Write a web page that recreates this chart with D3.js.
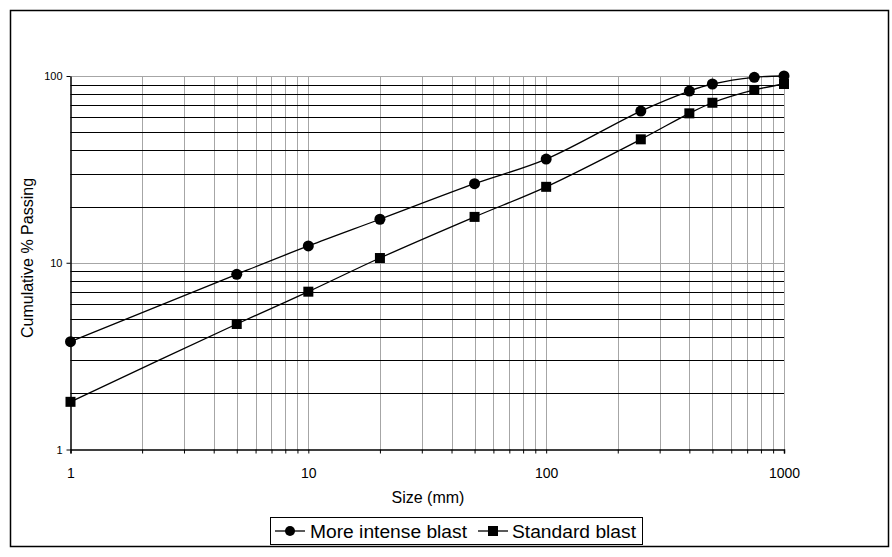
<!DOCTYPE html>
<html>
<head>
<meta charset="utf-8">
<script src="https://cdn.jsdelivr.net/npm/d3@7"></script>
<style>
  body { margin: 0; background: #fff; }
  svg { font-family: "Liberation Sans", Arial, sans-serif; }
</style>
</head>
<body>
<div id="chart"></div>
<script>
// sieve sizes (mm) and cumulative % passing for each blast
var sizes = [1, 5, 10, 20, 50, 100, 250, 400, 500, 750, 1000];
var intense = [3.78, 8.67, 12.3, 17.1, 26.5, 35.9, 64.9, 83.1, 90.6, 98.4, 100];
var standard = [1.8, 4.7, 7.0, 10.6, 17.6, 25.5, 45.8, 63.1, 71.9, 84.2, 90.6];
var seriesNames = ["More intense blast", "Standard blast"];
var xTicks = [1, 10, 100, 1000];
var yTicks = [1, 10, 100];

var width = 892, height = 557;
var margin = { top: 76, right: 108, bottom: 107.5, left: 70.5 };
var font = "'Liberation Sans', Arial, sans-serif";

var svg = d3.select("#chart").append("svg")
  .attr("width", width)
  .attr("height", height);

// outer frame
svg.append("rect")
  .attr("x", 10.5).attr("y", 10.5)
  .attr("width", 878).attr("height", 536)
  .attr("fill", "none").attr("stroke", "#000").attr("stroke-width", 1.5);

var xScale = d3.scaleLog().domain([1, 1000])
  .range([margin.left, width - margin.right]);
var yScale = d3.scaleLog().domain([1, 100])
  .range([height - margin.bottom, margin.top]);

// values 2..10 in every decade, no duplicates
function minors(lo, hi) {
  var out = [];
  for (var d = lo; d < hi; d *= 10)
    for (var k = 2; k <= 10; k++) out.push(d * k);
  return out;
}
var xGrid = minors(1, 1000);
var yMinor = minors(1, 100).filter(function(v) { return yTicks.indexOf(v) < 0; });

// vertical grid (grey)
svg.append("g").selectAll("line").data(xGrid).enter().append("line")
  .attr("x1", function(d) { return Math.round(xScale(d)) + 0.5; })
  .attr("x2", function(d) { return Math.round(xScale(d)) + 0.5; })
  .attr("y1", yScale(1)).attr("y2", yScale(100))
  .attr("stroke", "#a6a6a6").attr("stroke-width", 1);

// horizontal minor grid (black) and major grid (grey)
svg.append("g").selectAll("line").data(yMinor).enter().append("line")
  .attr("x1", xScale(1)).attr("x2", xScale(1000))
  .attr("y1", function(d) { return Math.round(yScale(d)) + 0.5; })
  .attr("y2", function(d) { return Math.round(yScale(d)) + 0.5; })
  .attr("stroke", "#000").attr("stroke-width", 1);
svg.append("g").selectAll("line").data([10, 100]).enter().append("line")
  .attr("x1", xScale(1)).attr("x2", xScale(1000))
  .attr("y1", function(d) { return Math.round(yScale(d)) + 0.5; })
  .attr("y2", function(d) { return Math.round(yScale(d)) + 0.5; })
  .attr("stroke", "#a6a6a6").attr("stroke-width", 1);

// x axis: minor ticks plus labelled decades
var xAxis = d3.axisBottom(xScale)
  .tickValues([1].concat(xGrid))
  .tickSize(4)
  .tickFormat(function(d) { return xTicks.indexOf(d) >= 0 ? d3.format("d")(d) : ""; });
var gx = svg.append("g")
  .attr("transform", "translate(0," + yScale(1) + ")")
  .call(xAxis)
  .attr("font-family", font);
gx.select(".domain").attr("stroke", "#000").attr("stroke-width", 1.5);
gx.selectAll(".tick line").attr("stroke", "#000");
gx.selectAll("text").attr("font-size", 14).attr("y", 28).attr("dy", 0).attr("fill", "#000");

// y axis
var yAxis = d3.axisLeft(yScale)
  .tickValues(yTicks)
  .tickSize(4)
  .tickSizeOuter(0)
  .tickFormat(d3.format("d"));
var gy = svg.append("g")
  .attr("transform", "translate(" + xScale(1) + ",0)")
  .call(yAxis)
  .attr("font-family", font);
gy.select(".domain").attr("stroke", "#000").attr("stroke-width", 1.5);
gy.selectAll(".tick line").attr("stroke", "#000");
gy.selectAll("text").attr("font-size", 11).attr("fill", "#000").attr("x", -8);

// axis titles
svg.append("text")
  .attr("x", 428).attr("y", 503)
  .attr("text-anchor", "middle")
  .attr("font-size", 16)
  .text("Size (mm)");
svg.append("text")
  .attr("transform", "translate(33,258) rotate(-90)")
  .attr("text-anchor", "middle")
  .attr("font-size", 16)
  .text("Cumulative % Passing");

var line = d3.line()
  .x(function(d) { return xScale(d[0]); })
  .y(function(d) { return yScale(d[1]); })
  .curve(d3.curveCatmullRom.alpha(0.5));

var series = [intense, standard].map(function(vals, i) {
  return { name: seriesNames[i], pts: sizes.map(function(s, j) { return [s, vals[j]]; }) };
});

series.forEach(function(s, i) {
  svg.append("path")
    .datum(s.pts)
    .attr("fill", "none")
    .attr("stroke", "#000")
    .attr("stroke-width", 1.3)
    .attr("d", line);
  var g = svg.append("g");
  if (i === 0) {
    g.selectAll("circle").data(s.pts).enter().append("circle")
      .attr("cx", function(d) { return xScale(d[0]); })
      .attr("cy", function(d) { return yScale(d[1]); })
      .attr("r", 5.5).attr("fill", "#000");
  } else {
    g.selectAll("rect").data(s.pts).enter().append("rect")
      .attr("x", function(d) { return xScale(d[0]) - 5; })
      .attr("y", function(d) { return yScale(d[1]) - 5; })
      .attr("width", 10).attr("height", 10).attr("fill", "#000");
  }
});

// legend
var legend = svg.append("g");
legend.append("rect")
  .attr("x", 270.5).attr("y", 517.5)
  .attr("width", 372).attr("height", 27)
  .attr("fill", "#fff").attr("stroke", "#000").attr("stroke-width", 1);
var items = [{ x: 275, tx: 310, w: 157 }, { x: 478, tx: 512, w: 124 }];
items.forEach(function(it, i) {
  legend.append("line")
    .attr("x1", it.x).attr("x2", it.x + 30)
    .attr("y1", 531).attr("y2", 531)
    .attr("stroke", "#000").attr("stroke-width", 1.3);
  if (i === 0) {
    legend.append("circle").attr("cx", it.x + 15).attr("cy", 531).attr("r", 5).attr("fill", "#000");
  } else {
    legend.append("rect").attr("x", it.x + 10).attr("y", 526).attr("width", 10).attr("height", 10).attr("fill", "#000");
  }
  legend.append("text")
    .attr("x", it.tx).attr("y", 537.5)
    .attr("font-size", 17.5)
    .attr("textLength", it.w)
    .attr("lengthAdjust", "spacingAndGlyphs")
    .text(seriesNames[i]);
});
</script>
</body>
</html>
